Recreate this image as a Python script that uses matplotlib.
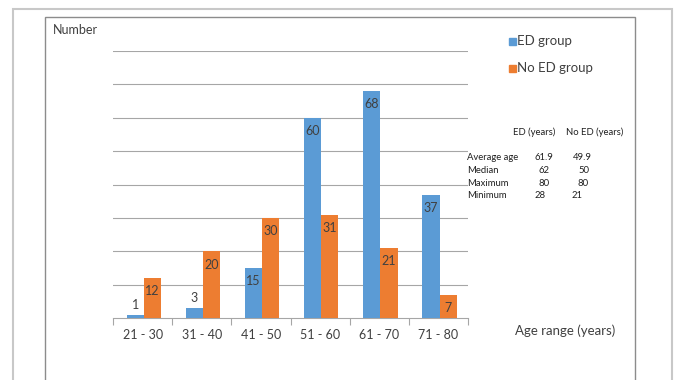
import numpy as np
import matplotlib.pyplot as plt
from matplotlib.patches import Rectangle

plt.rcParams['font.family'] = ['Lato', 'DejaVu Sans']

# age bands and patient counts per group
age_groups = ['21 - 30', '31 - 40', '41 - 50', '51 - 60', '61 - 70', '71 - 80']
ed_counts = [1, 3, 15, 60, 68, 37]
no_ed_counts = [12, 20, 30, 31, 21, 7]

# summary table
stat_names = ['Average age', 'Median', 'Maximum', 'Minimum']
ed_stats = ['61.9', '62', '80', '28']
no_ed_stats = ['49.9', '50', '80', '21']

W, H = 680, 380
blue = '#5B9BD5'
orange = '#ED7D31'
txt = '#404040'
grid_c = '#a6a6a6'

def fx(px):
    return px / W

def fy(py):
    return 1 - py / H

fig = plt.figure(figsize=(6.8, 3.8), dpi=100)

# outer and inner frames
fig.patches.append(Rectangle((fx(13), fy(400)), fx(672) - fx(13), fy(9) - fy(400),
                             transform=fig.transFigure, fill=False,
                             edgecolor='#c8c8c8', lw=1.5))
fig.patches.append(Rectangle((fx(45), fy(400)), fx(635) - fx(45), fy(17) - fy(400),
                             transform=fig.transFigure, fill=False,
                             edgecolor='#8c8c8c', lw=1.0))

ax = fig.add_axes([fx(113), fy(318), fx(468) - fx(113), fy(51) - fy(318)])
x = np.arange(len(age_groups))
bw = 0.29
ax.bar(x - bw / 2 + 0.02, ed_counts, bw, color=blue, zorder=3, label='ED group')
ax.bar(x + bw / 2 + 0.02, no_ed_counts, bw, color=orange, zorder=3, label='No ED group')

def label_y(v):
    return v + 3 if v < 5 else v - 4

for xi, v in zip(x, ed_counts):
    ax.text(xi - bw / 2 + 0.02, label_y(v), str(v), ha='center', va='center',
            fontsize=9, color=txt, zorder=4)
for xi, v in zip(x, no_ed_counts):
    ax.text(xi + bw / 2 + 0.02, label_y(v), str(v), ha='center', va='center',
            fontsize=9, color=txt, zorder=4)

ax.set_xlim(-0.5, len(age_groups) - 0.5)
ax.set_ylim(0, 80)
ax.set_yticks(np.arange(10, 81, 10))
ax.yaxis.grid(True, color=grid_c, lw=0.8, zorder=0)
ax.tick_params(axis='y', left=False, labelleft=False)
ax.set_xticks(x)
ax.set_xticklabels(age_groups, fontsize=9, color=txt)
ax.tick_params(axis='x', length=0, pad=8)
ax.set_xticks(np.arange(-0.5, len(age_groups), 1), minor=True)
ax.tick_params(axis='x', which='minor', length=5, color=grid_c, width=0.8)
for s in ['top', 'right', 'left']:
    ax.spines[s].set_visible(False)
ax.spines['bottom'].set_color(grid_c)
ax.spines['bottom'].set_linewidth(0.8)

fig.text(fx(53), fy(30), 'Number', fontsize=9, color=txt, va='center')
fig.text(fx(515), fy(331), 'Age range (years)', fontsize=9.5, color=txt, va='center')

# legend on the right
for py, lab, col in [(41, 'ED group', blue), (68, 'No ED group', orange)]:
    fig.patches.append(Rectangle((fx(509), fy(py) - 3.5 / H), 7 / W, 7 / H,
                                 transform=fig.transFigure, color=col))
    fig.text(fx(517), fy(py), lab, fontsize=9.5, color=txt, va='center')

# summary statistics table
fig.text(fx(513), fy(132), 'ED (years)', fontsize=6.8, color='#202020', va='center')
fig.text(fx(566), fy(132), 'No ED (years)', fontsize=6.8, color='#202020', va='center')
rows_y = [158, 170, 183, 195]
ed_x = [544, 544, 544, 540]
no_x = [582, 584, 583, 577]
for i, name in enumerate(stat_names):
    fig.text(fx(467), fy(rows_y[i]), name, fontsize=6.8, color='#202020', va='center')
    fig.text(fx(ed_x[i]), fy(rows_y[i]), ed_stats[i], fontsize=6.8,
             color='#202020', va='center', ha='center')
    fig.text(fx(no_x[i]), fy(rows_y[i]), no_ed_stats[i], fontsize=6.8,
             color='#202020', va='center', ha='center')

fig.savefig('out.png', dpi=100)
